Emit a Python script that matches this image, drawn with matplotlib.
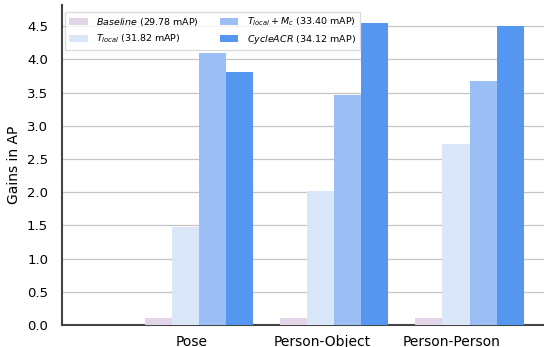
import numpy as np
import matplotlib.pyplot as plt

# categories and series (gains in AP)
categories = ["Pose", "Person-Object", "Person-Person"]
labels = [r"$\it{Baseline}$ (29.78 mAP)",
          r"$T_{local}$ (31.82 mAP)",
          r"$T_{local}+M_c$ (33.40 mAP)",
          r"$\it{CycleACR}$ (34.12 mAP)"]
baseline = [0.1, 0.1, 0.1]
t_local = [1.47, 2.02, 2.72]
t_local_mc = [4.10, 3.47, 3.67]
cycleacr = [3.81, 4.55, 4.50]

colors = ["#e2d5e8", "#d9e7f9", "#9bbff5", "#5596f0"]

fig = plt.figure(figsize=(5.44, 3.47), dpi=100)
ax = fig.add_axes([0.114, 0.0634, 0.886, 0.922])

x = np.arange(len(categories))
w = 0.2
series = [baseline, t_local, t_local_mc, cycleacr]
for k, (vals, lab, col) in enumerate(zip(series, labels, colors)):
    ax.bar(x + k * w, vals, w, label=lab, color=col, zorder=3)

# tick labels sit a bit left of the group centres in the original
ax.set_xticks(x * 0.96 + 0.25)
ax.set_xticklabels(categories, fontsize=10)
ax.set_xlim(-0.71, 2.85)
ax.set_ylim(0, 4.82)
ax.set_yticks(np.arange(0, 4.51, 0.5))
ax.tick_params(axis="y", labelsize=9.5, length=0, pad=10)
ax.tick_params(axis="x", length=0, pad=7)
ax.set_ylabel("Gains in AP", fontsize=10, labelpad=4)
ax.yaxis.grid(True, color="#c4c4c4", linewidth=0.9, zorder=0)

for s in ["top", "right"]:
    ax.spines[s].set_visible(False)
for s in ["left", "bottom"]:
    ax.spines[s].set_color("#444444")
    ax.spines[s].set_linewidth(1.5)

leg = ax.legend(loc="upper left", bbox_to_anchor=(0.006, 0.978), ncol=2,
                fontsize=6.8, frameon=True, edgecolor="#d4d4d4",
                fancybox=False, borderaxespad=0, columnspacing=2.2,
                handlelength=2.0, handletextpad=0.9, framealpha=0.8)
leg.set_zorder(5)

fig.savefig("out.png", dpi=100)
